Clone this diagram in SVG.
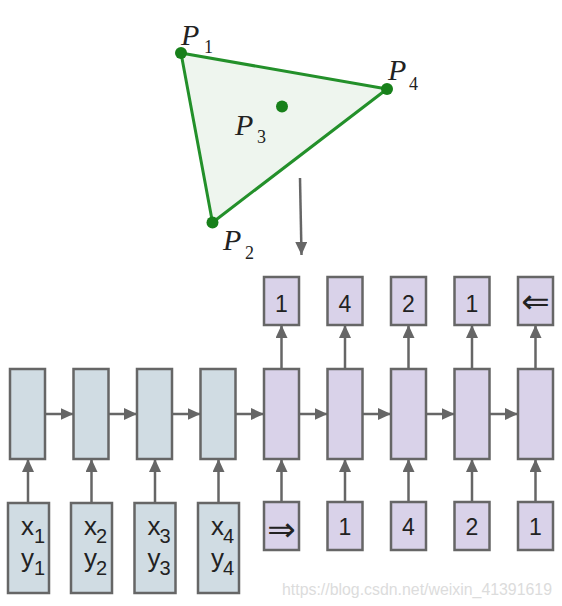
<svg xmlns="http://www.w3.org/2000/svg" width="562" height="606" viewBox="0 0 562 606">
<style>
.enc{fill:#d0dce3;stroke:#666;stroke-width:2.5}
.dec{fill:#d9d2e9;stroke:#666;stroke-width:2.5}
.con{stroke:#666;stroke-width:2.5;fill:none;marker-end:url(#ah)}
.lbl{font-family:"Liberation Sans",Arial,sans-serif;fill:#222}
.num{font-family:"Liberation Sans",Arial,sans-serif;font-size:23px;fill:#222;text-anchor:middle}
.sym{font-family:"DejaVu Sans",sans-serif;font-size:34px;fill:#222;text-anchor:middle}
.pl{font-family:"Liberation Serif","Times New Roman",serif;font-style:italic;font-size:30px;fill:#222}
.ps{font-family:"Liberation Serif","Times New Roman",serif;font-size:18px;fill:#222}
.dot{fill:#17801a}
</style>
<defs>
<marker id="ah" viewBox="0 0 13 12" refX="13" refY="6" markerWidth="13" markerHeight="12" markerUnits="userSpaceOnUse" orient="auto">
<path d="M0,0 L13,6 L0,12 z" fill="#666"/>
</marker>
</defs>
<rect width="562" height="606" fill="#fff"/>

<g id="triangle">
<polygon points="181,53 387,89 212.5,222.5" fill="#eef5ee" stroke="#23902a" stroke-width="3" stroke-linejoin="round"/>
<circle class="dot" cx="181" cy="53" r="6"/>
<circle class="dot" cx="387" cy="89" r="6"/>
<circle class="dot" cx="212.5" cy="222.5" r="6"/>
<circle class="dot" cx="282" cy="106.5" r="6"/>
<text class="pl" x="181" y="45">P</text><text class="ps" x="204" y="53">1</text>
<text class="pl" x="388" y="80">P</text><text class="ps" x="409" y="90">4</text>
<text class="pl" x="235" y="135">P</text><text class="ps" x="257" y="143">3</text>
<text class="pl" x="223" y="250">P</text><text class="ps" x="245" y="259">2</text>
</g>

<g id="connectors">
<path class="con" d="M300,178 L301.5,255"/>
<path class="con" d="M45,414 H73.5"/>
<path class="con" d="M108.5,414 H137"/>
<path class="con" d="M172,414 H200.5"/>
<path class="con" d="M235.5,414 H264"/>
<path class="con" d="M299,414 H327.5"/>
<path class="con" d="M362.5,414 H391"/>
<path class="con" d="M426,414 H454.5"/>
<path class="con" d="M489.5,414 H518"/>
<path class="con" d="M28,503 V459"/>
<path class="con" d="M91.5,503 V459"/>
<path class="con" d="M155,503 V459"/>
<path class="con" d="M218.5,503 V459"/>
<path class="con" d="M281.5,502 V459"/>
<path class="con" d="M345,502 V459"/>
<path class="con" d="M408.5,502 V459"/>
<path class="con" d="M472,502 V459"/>
<path class="con" d="M535.5,502 V459"/>
<path class="con" d="M281.5,369 V325"/>
<path class="con" d="M345,369 V325"/>
<path class="con" d="M408.5,369 V325"/>
<path class="con" d="M472,369 V325"/>
<path class="con" d="M535.5,369 V325"/>
</g>

<g id="enc-cells">
<rect id="e1" class="enc" x="10" y="369" width="35" height="90"/>
<rect id="e2" class="enc" x="73.5" y="369" width="35" height="90"/>
<rect id="e3" class="enc" x="137" y="369" width="35" height="90"/>
<rect id="e4" class="enc" x="200.5" y="369" width="35" height="90"/>
</g>
<g id="dec-cells">
<rect id="d1" class="dec" x="264" y="369" width="35" height="90"/>
<rect id="d2" class="dec" x="327.5" y="369" width="35" height="90"/>
<rect id="d3" class="dec" x="391" y="369" width="35" height="90"/>
<rect id="d4" class="dec" x="454.5" y="369" width="35" height="90"/>
<rect id="d5" class="dec" x="518" y="369" width="35" height="90"/>
</g>

<g id="inputs">
<g id="in1"><rect class="enc" x="8" y="503" width="41" height="90"/>
<text class="lbl" font-size="26" x="21" y="535">x</text><text class="lbl" font-size="20" x="34" y="543">1</text>
<text class="lbl" font-size="26" x="21" y="567">y</text><text class="lbl" font-size="20" x="34" y="575">1</text></g>
<g id="in2"><rect class="enc" x="71" y="503" width="41" height="90"/>
<text class="lbl" font-size="26" x="84" y="535">x</text><text class="lbl" font-size="20" x="96" y="543">2</text>
<text class="lbl" font-size="26" x="84" y="567">y</text><text class="lbl" font-size="20" x="96" y="575">2</text></g>
<g id="in3"><rect class="enc" x="134.5" y="503" width="41" height="90"/>
<text class="lbl" font-size="26" x="147.5" y="535">x</text><text class="lbl" font-size="20" x="159.5" y="543">3</text>
<text class="lbl" font-size="26" x="147.5" y="567">y</text><text class="lbl" font-size="20" x="159.5" y="575">3</text></g>
<g id="in4"><rect class="enc" x="198" y="503" width="41" height="90"/>
<text class="lbl" font-size="26" x="211" y="535">x</text><text class="lbl" font-size="20" x="223" y="543">4</text>
<text class="lbl" font-size="26" x="211" y="567">y</text><text class="lbl" font-size="20" x="223" y="575">4</text></g>
</g>

<g id="dec-inputs">
<g id="di1"><rect class="dec" x="264" y="502" width="35" height="48"/><text class="sym" x="281.5" y="541">⇒</text></g>
<g id="di2"><rect class="dec" x="327.5" y="502" width="35" height="48"/><text class="num" x="345" y="535">1</text></g>
<g id="di3"><rect class="dec" x="391" y="502" width="35" height="48"/><text class="num" x="408.5" y="535">4</text></g>
<g id="di4"><rect class="dec" x="454.5" y="502" width="35" height="48"/><text class="num" x="472" y="535">2</text></g>
<g id="di5"><rect class="dec" x="518" y="502" width="35" height="48"/><text class="num" x="535.5" y="535">1</text></g>
</g>

<g id="outputs">
<g id="o1"><rect class="dec" x="264" y="277" width="35" height="48"/><text class="num" x="281.5" y="312">1</text></g>
<g id="o2"><rect class="dec" x="327.5" y="277" width="35" height="48"/><text class="num" x="345" y="312">4</text></g>
<g id="o3"><rect class="dec" x="391" y="277" width="35" height="48"/><text class="num" x="408.5" y="312">2</text></g>
<g id="o4"><rect class="dec" x="454.5" y="277" width="35" height="48"/><text class="num" x="472" y="312">1</text></g>
<g id="o5"><rect class="dec" x="518" y="277" width="35" height="48"/><text class="sym" x="535.5" y="313">⇐</text></g>
</g>

<text x="282" y="595" font-family="'Liberation Sans',Arial,sans-serif" font-size="16" fill="#dcdcdc" textLength="270" lengthAdjust="spacingAndGlyphs">https://blog.csdn.net/weixin_41391619</text>
</svg>
